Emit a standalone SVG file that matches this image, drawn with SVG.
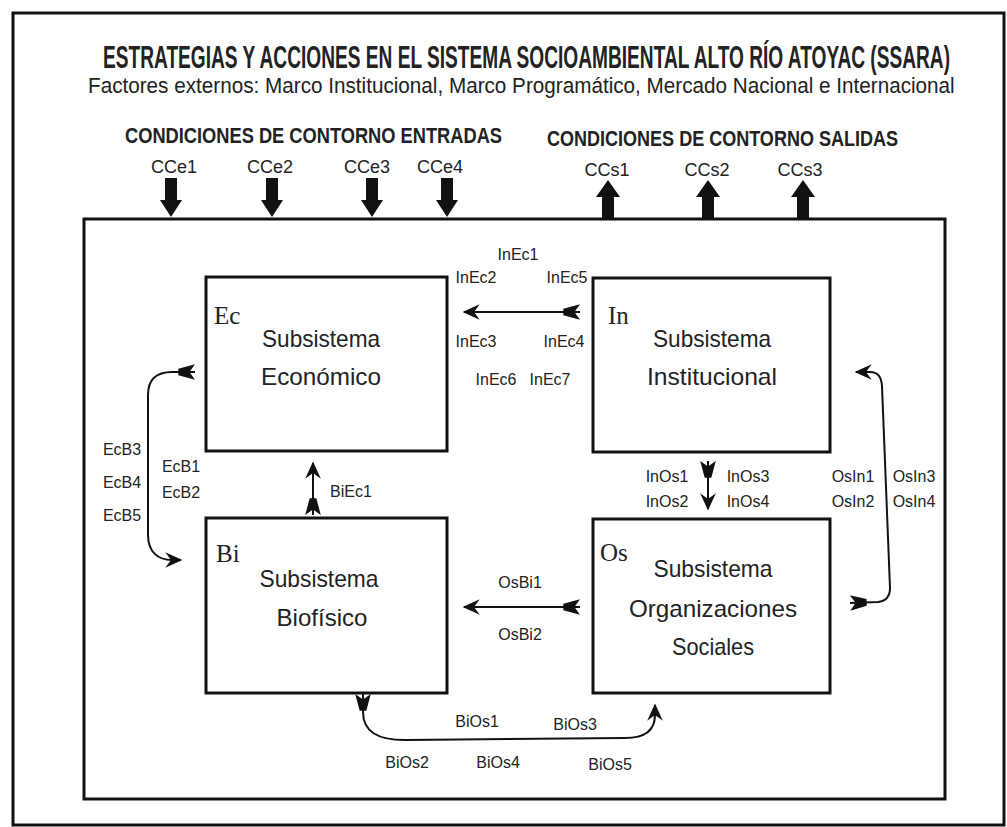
<svg xmlns="http://www.w3.org/2000/svg" width="1007" height="827" viewBox="0 0 1007 827">
<style>
text{font-family:"Liberation Sans",Arial,sans-serif;fill:#222}
.title{font-size:32px;font-weight:bold}
.sub{font-size:22px}
.cch{font-size:22px;font-weight:bold}
.cc{font-size:18px;text-anchor:middle}
.lbl{font-size:16px;text-anchor:middle}
.name{font-size:24px;text-anchor:middle}
.code{font-family:"Liberation Serif","Times New Roman",serif;font-size:25px}
.box{fill:#fff;stroke:#111;stroke-width:3}
.frame{fill:none;stroke:#111;stroke-width:3}
.conn{fill:none;stroke:#111;stroke-width:2;marker-start:url(#tail);marker-end:url(#head)}
.block{fill:#111}
</style>
<defs>
<marker id="head" markerUnits="userSpaceOnUse" orient="auto" markerWidth="20" markerHeight="20" refX="0" refY="0" viewBox="-12 -7 14 14" overflow="visible">
<path d="M1,0 L-11,-5.5 L-7,0 L-11,5.5 Z" fill="#111"/>
</marker>
<marker id="tail" markerUnits="userSpaceOnUse" orient="auto" markerWidth="20" markerHeight="20" refX="0" refY="0" viewBox="-2 -8 18 16" overflow="visible">
<path d="M0,-7 L15,-3 L15,3 L0,7 L5,0 Z" fill="#111"/>
</marker>
</defs>
<rect x="13" y="13" width="991" height="812" fill="#fff" stroke="#111" stroke-width="3"/>
<g id="heading">
<text class="title" transform="translate(103,68) scale(0.55,1)" x="0" y="0" textLength="1540" lengthAdjust="spacingAndGlyphs">ESTRATEGIAS Y ACCIONES EN EL SISTEMA SOCIOAMBIENTAL ALTO RÍO ATOYAC (SSARA)</text>
<text class="sub" transform="translate(88,93) scale(0.9,1)" x="0" y="0" textLength="963" lengthAdjust="spacingAndGlyphs">Factores externos: Marco Institucional, Marco Programático, Mercado Nacional e Internacional</text>
<text class="cch" x="125" y="143" textLength="377" lengthAdjust="spacingAndGlyphs">CONDICIONES DE CONTORNO ENTRADAS</text>
<text class="cch" x="547" y="146" textLength="351" lengthAdjust="spacingAndGlyphs">CONDICIONES DE CONTORNO SALIDAS</text>
</g>
<g id="inputs">
<text class="cc" x="174" y="173">CCe1</text>
<text class="cc" x="270" y="173">CCe2</text>
<text class="cc" x="367" y="173">CCe3</text>
<text class="cc" x="440" y="173">CCe4</text>
<polygon class="block" points="165,178 177,178 177,200 182,200 171,217 160,200 165,200"/>
<polygon class="block" points="266,178 278,178 278,200 283,200 272,217 261,200 266,200"/>
<polygon class="block" points="366,178 378,178 378,200 383,200 372,217 361,200 366,200"/>
<polygon class="block" points="441,178 453,178 453,200 458,200 447,217 436,200 441,200"/>
</g>
<g id="outputs">
<text class="cc" x="607" y="176">CCs1</text>
<text class="cc" x="707" y="176">CCs2</text>
<text class="cc" x="800" y="176">CCs3</text>
<polygon class="block" points="608,180 620,197 614,197 614,219 602,219 602,197 596,197"/>
<polygon class="block" points="708,180 720,197 714,197 714,219 702,219 702,197 696,197"/>
<polygon class="block" points="803,180 815,197 809,197 809,219 797,219 797,197 791,197"/>
</g>
<rect id="system" class="frame" x="84" y="219" width="861" height="580"/>
<g id="Ec">
<rect class="box" x="206" y="277" width="241" height="174"/>
<text class="code" x="214" y="324">Ec</text>
<text class="name" x="321" y="347" textLength="118" lengthAdjust="spacingAndGlyphs">Subsistema</text>
<text class="name" x="321" y="385" textLength="120" lengthAdjust="spacingAndGlyphs">Económico</text>
</g>
<g id="In">
<rect class="box" x="593" y="278" width="237" height="174"/>
<text class="code" x="608" y="324">In</text>
<text class="name" x="712" y="347" textLength="118" lengthAdjust="spacingAndGlyphs">Subsistema</text>
<text class="name" x="712" y="385" textLength="130" lengthAdjust="spacingAndGlyphs">Institucional</text>
</g>
<g id="Bi">
<rect class="box" x="206" y="518" width="241" height="175"/>
<text class="code" x="216" y="562">Bi</text>
<text class="name" x="319" y="587" textLength="119" lengthAdjust="spacingAndGlyphs">Subsistema</text>
<text class="name" x="322" y="626" textLength="91" lengthAdjust="spacingAndGlyphs">Biofísico</text>
</g>
<g id="Os">
<rect class="box" x="593" y="519" width="237" height="174"/>
<text class="code" x="600" y="561">Os</text>
<text class="name" x="713" y="577" textLength="119" lengthAdjust="spacingAndGlyphs">Subsistema</text>
<text class="name" x="713" y="617" textLength="168" lengthAdjust="spacingAndGlyphs">Organizaciones</text>
<text class="name" x="713" y="655" textLength="82" lengthAdjust="spacingAndGlyphs">Sociales</text>
</g>
<g id="connectors">
<path class="conn" d="M580,312 L464,312"/>
<path class="conn" d="M313,515 L313,463"/>
<path class="conn" d="M195,372 L172,372 C155,372 148,380 148,395 L148,535 C148,552 158,560 172,560 L181,560"/>
<path class="conn" d="M708,461 L708,509"/>
<path class="conn" d="M850,603 L878,602 C887,601 890,596 890,588 L882,386 C881.5,377 878,372 870,372 L856,372"/>
<path class="conn" d="M580,607 L464,607"/>
<path class="conn" d="M363,694 L363,712 C363,732 378,740 405,740 L625,738 C648,738 655,728 655,715 L655,705"/>
<g id="connector-labels">
<text class="lbl" x="518" y="260">InEc1</text>
<text class="lbl" x="476" y="283">InEc2</text>
<text class="lbl" x="567" y="283">InEc5</text>
<text class="lbl" x="476" y="347">InEc3</text>
<text class="lbl" x="564" y="347">InEc4</text>
<text class="lbl" x="496" y="385">InEc6</text>
<text class="lbl" x="550" y="385">InEc7</text>
<text class="lbl" x="351" y="497">BiEc1</text>
<text class="lbl" x="122" y="455">EcB3</text>
<text class="lbl" x="122" y="488">EcB4</text>
<text class="lbl" x="122" y="521">EcB5</text>
<text class="lbl" x="181" y="472">EcB1</text>
<text class="lbl" x="181" y="498">EcB2</text>
<text class="lbl" x="667" y="482">InOs1</text>
<text class="lbl" x="667" y="507">InOs2</text>
<text class="lbl" x="748" y="482">InOs3</text>
<text class="lbl" x="748" y="507">InOs4</text>
<text class="lbl" x="853" y="482">OsIn1</text>
<text class="lbl" x="853" y="507">OsIn2</text>
<text class="lbl" x="914" y="482">OsIn3</text>
<text class="lbl" x="914" y="507">OsIn4</text>
<text class="lbl" x="520" y="588">OsBi1</text>
<text class="lbl" x="520" y="640">OsBi2</text>
<text class="lbl" x="477" y="727">BiOs1</text>
<text class="lbl" x="575" y="730">BiOs3</text>
<text class="lbl" x="407" y="768">BiOs2</text>
<text class="lbl" x="498" y="768">BiOs4</text>
<text class="lbl" x="610" y="770">BiOs5</text>
</g>
</g>
</svg>
